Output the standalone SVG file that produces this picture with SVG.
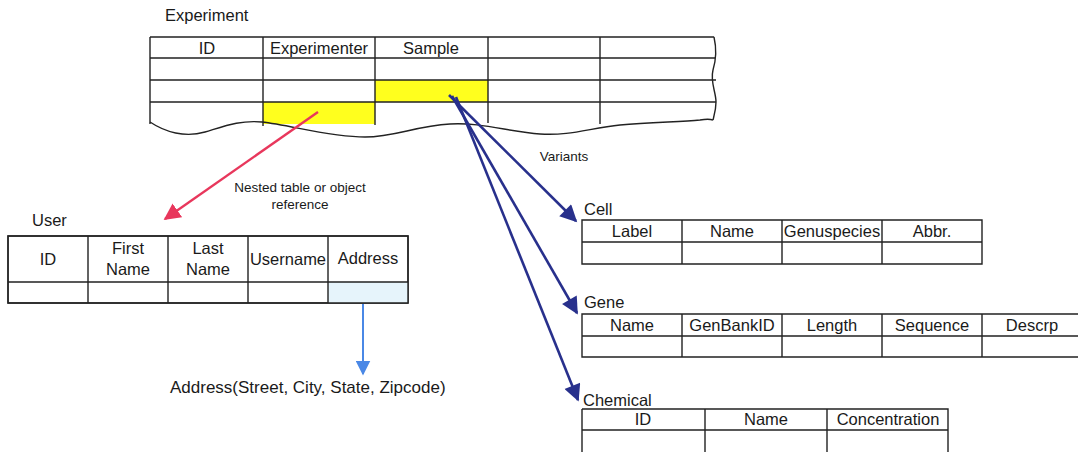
<svg xmlns="http://www.w3.org/2000/svg" width="1078" height="452" viewBox="0 0 1078 452">
<defs>
<style>
text{font-family:"Liberation Sans",Arial,sans-serif;fill:#1a1a1a}
.t{font-size:16.5px}
.h{font-size:16.5px;text-anchor:middle}
.s{font-size:13.5px;text-anchor:middle}
.g{fill:none;stroke:#222;stroke-width:1.4}
.cell{fill:#fff;stroke:#222;stroke-width:1.4}
.navy{stroke:#28308c;stroke-width:2.6;fill:none}
</style>
<marker id="aNavy" viewBox="0 0 10 10" refX="9" refY="5" markerWidth="7" markerHeight="6.5" orient="auto"><path d="M0,0 L10,5 L0,10 z" fill="#28308c"/></marker>
<marker id="aRed" viewBox="0 0 10 10" refX="9" refY="5" markerWidth="7" markerHeight="7" orient="auto"><path d="M0,0 L10,5 L0,10 z" fill="#e8375c"/></marker>
<marker id="aBlue" viewBox="0 0 10 10" refX="9" refY="5" markerWidth="7.5" markerHeight="7.5" orient="auto"><path d="M0,0 L10,5 L0,10 z" fill="#4a88e6"/></marker>
</defs>
<rect width="1078" height="452" fill="#fff"/>

<g id="experiment">
<text class="t" x="165" y="21">Experiment</text>
<rect x="263" y="102" width="112" height="22" fill="#ffff1e"/>
<rect x="375" y="80" width="113" height="22" fill="#ffff1e"/>
<path class="g" d="M150,37 H714 M150,58 H715 M150,80 H716 M150,102 H716"/>
<path class="g" d="M150,37 V124 M263,37 V126 M375,37 V125 M488,37 V123 M600,37 V124"/>
<path class="g" d="M714,37 C717,50 716,60 713,70 C710,82 716,92 716,102 C716,110 714,116 713,120"/>
<path class="g" d="M150,122 C165,132 185,138 205,132 C225,126 240,120 262,122 C290,125 330,137 365,137 C395,137 415,126 450,124 C480,122 510,132 540,134 C570,136 590,128 620,125 C650,122 680,122 700,120 C706,119 710,119 713,120"/>
<text class="h" x="207" y="54">ID</text>
<text class="h" x="319" y="54">Experimenter</text>
<text class="h" x="431" y="54">Sample</text>
</g>

<g id="user">
<text class="t" x="32" y="226">User</text>
<rect class="cell" x="8" y="236" width="400" height="67"/>
<rect x="328" y="282" width="80" height="21" fill="#e6f4fb"/>
<path class="g" d="M8,236 H408 V303 H8 Z M8,282 H408 M88,236 V303 M168,236 V303 M248,236 V303 M328,236 V303"/>
<text class="h" x="48" y="265">ID</text>
<text class="h" x="128" y="254">First</text>
<text class="h" x="128" y="275">Name</text>
<text class="h" x="208" y="254">Last</text>
<text class="h" x="208" y="275">Name</text>
<text class="h" x="288" y="265">Username</text>
<text class="h" x="368" y="264">Address</text>
</g>

<g id="address">
<text x="170" y="393" font-size="17">Address(Street, City, State, Zipcode)</text>
</g>

<g id="cell">
<text class="t" x="584" y="215">Cell</text>
<path class="g" d="M582,220 H982 V264 H582 Z M582,242 H982 M682,220 V264 M782,220 V264 M882,220 V264"/>
<text class="h" x="632" y="237">Label</text>
<text class="h" x="732" y="237">Name</text>
<text class="h" x="832" y="237">Genuspecies</text>
<text class="h" x="932" y="237">Abbr.</text>
</g>

<g id="gene">
<text class="t" x="584" y="308">Gene</text>
<path class="g" d="M1082,314 H582 V357 H1082 M582,336 H1082 M682,314 V357 M782,314 V357 M882,314 V357 M982,314 V357"/>
<text class="h" x="632" y="331">Name</text>
<text class="h" x="732" y="331">GenBankID</text>
<text class="h" x="832" y="331">Length</text>
<text class="h" x="932" y="331">Sequence</text>
<text class="h" x="1032" y="331">Descrp</text>
</g>

<g id="chemical">
<text class="t" x="583" y="406">Chemical</text>
<path class="g" d="M582,409 H948 V452 M582,452 V409 M582,430 H948 M705,409 V452 M827,409 V452"/>
<text class="h" x="643" y="425">ID</text>
<text class="h" x="766" y="425">Name</text>
<text class="h" x="888" y="425">Concentration</text>
</g>

<g id="connectors">
<line x1="318" y1="112" x2="165" y2="219" stroke="#e8375c" stroke-width="2.4" marker-end="url(#aRed)"/>
<line x1="449" y1="95" x2="576" y2="221" class="navy" marker-end="url(#aNavy)"/>
<line x1="452" y1="96" x2="577" y2="313" class="navy" marker-end="url(#aNavy)"/>
<line x1="456" y1="97" x2="578" y2="400" class="navy" marker-end="url(#aNavy)"/>
<line x1="363" y1="304" x2="363" y2="374" stroke="#4a88e6" stroke-width="2" marker-end="url(#aBlue)"/>
<text class="s" x="300" y="192">Nested table or object</text>
<text class="s" x="300" y="209">reference</text>
<text class="s" x="564" y="161">Variants</text>
</g>
</svg>
